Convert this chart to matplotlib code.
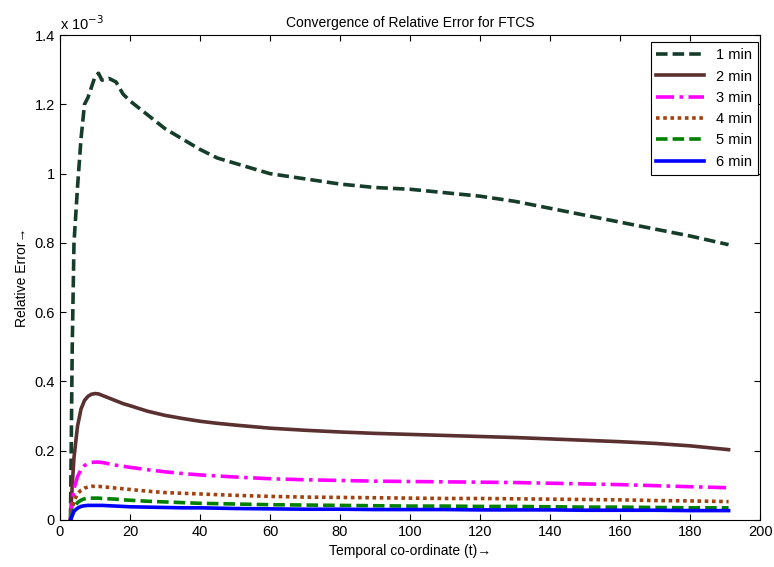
import matplotlib
matplotlib.use("Agg")
import matplotlib.pyplot as plt

plt.rcParams["font.family"] = ["Liberation Sans", "DejaVu Sans"]

# temporal coordinate sample points
t = [3, 3.5, 4, 5, 6, 7, 8, 9, 10, 11, 12, 14, 16, 18, 20, 25, 30, 35, 40, 45, 50,
     60, 70, 80, 90, 100, 110, 120, 130, 140, 150, 160, 170, 180, 191]

# relative error (x 1e-3)
err_1 = [0.0, 0.50, 0.80, 0.96, 1.10, 1.20, 1.22, 1.25, 1.28, 1.29, 1.27, 1.275, 1.265, 1.23, 1.21,
         1.17, 1.13, 1.10, 1.07, 1.045, 1.03, 1.00, 0.985, 0.97, 0.96, 0.955, 0.945, 0.935,
         0.92, 0.90, 0.88, 0.86, 0.84, 0.82, 0.795]
err_2 = [0.0, 0.10, 0.18, 0.27, 0.32, 0.345, 0.357, 0.363, 0.365, 0.364, 0.360, 0.352, 0.344,
         0.336, 0.330, 0.314, 0.302, 0.293, 0.285, 0.279, 0.274, 0.265, 0.259, 0.254, 0.250,
         0.247, 0.244, 0.241, 0.238, 0.234, 0.230, 0.226, 0.221, 0.214, 0.203]
err_3 = [0.0, 0.05, 0.09, 0.125, 0.145, 0.157, 0.163, 0.166, 0.167, 0.167, 0.166, 0.162, 0.158,
         0.155, 0.152, 0.145, 0.139, 0.134, 0.130, 0.127, 0.124, 0.119, 0.116, 0.114, 0.112,
         0.111, 0.110, 0.109, 0.108, 0.106, 0.104, 0.102, 0.099, 0.096, 0.093]
err_4 = [0.0, 0.03, 0.055, 0.075, 0.086, 0.092, 0.095, 0.097, 0.097, 0.097, 0.096, 0.094, 0.092,
         0.090, 0.088, 0.083, 0.079, 0.077, 0.075, 0.073, 0.071, 0.068, 0.066, 0.065, 0.064,
         0.063, 0.062, 0.062, 0.061, 0.060, 0.059, 0.058, 0.056, 0.055, 0.053]
err_5 = [0.0, 0.02, 0.035, 0.050, 0.057, 0.061, 0.063, 0.063, 0.063, 0.063, 0.062, 0.061, 0.060,
         0.058, 0.057, 0.054, 0.052, 0.050, 0.048, 0.047, 0.046, 0.044, 0.043, 0.042, 0.041,
         0.040, 0.040, 0.039, 0.039, 0.038, 0.037, 0.037, 0.036, 0.035, 0.035]
err_6 = [0.0, 0.012, 0.025, 0.034, 0.039, 0.041, 0.042, 0.042, 0.042, 0.042, 0.042, 0.041, 0.040,
         0.039, 0.038, 0.037, 0.036, 0.035, 0.035, 0.034, 0.033, 0.032, 0.031, 0.031, 0.030,
         0.030, 0.030, 0.029, 0.029, 0.029, 0.028, 0.028, 0.028, 0.027, 0.027]

labels = ["1 min", "2 min", "3 min", "4 min", "5 min", "6 min"]
series = [err_1, err_2, err_3, err_4, err_5, err_6]
colors = ["#153d2a", "#5a3030", "#ff00ff", "#a3420e", "#008000", "#0000ff"]
styles = [(0, (3.2, 1.4)), "-", (0, (5, 1.5, 1, 1.5)), (0, (1, 1)), (0, (3.2, 1.4)), "-"]

fig = plt.figure(figsize=(7.74, 5.67), dpi=100)
ax = fig.add_axes([0.0775, 0.083, 0.9045, 0.855])

for y, lab, c, ls in zip(series, labels, colors, styles):
    ax.plot(t, [v * 1e-3 for v in y], color=c, linestyle=ls, linewidth=2.6, label=lab)

ax.set_xlim(0, 200)
ax.set_ylim(0, 1.4e-3)
ax.set_xticks(range(0, 201, 20))
ax.set_yticks([i * 0.2e-3 for i in range(8)])
ax.set_yticklabels(["0", "0.2", "0.4", "0.6", "0.8", "1", "1.2", "1.4"])
ax.text(0.0, 1.005, r"x 10$^{-3}$", transform=ax.transAxes, fontsize=10.5, ha="left", va="bottom")
ax.tick_params(direction="in", top=True, right=True, labelsize=10.5, length=4)

ax.set_title("Convergence of Relative Error for FTCS", fontsize=10)
ax.set_xlabel("Temporal co-ordinate (t)\u2192", fontsize=10)
ax.set_ylabel("Relative Error\u2192", fontsize=10)

leg = ax.legend(loc="upper right", bbox_to_anchor=(0.997, 0.985), fontsize=10.5, fancybox=False,
                framealpha=1, edgecolor="black", handlelength=3.3, borderaxespad=0.0,
                labelspacing=0.5)
leg.get_frame().set_linewidth(0.8)

fig.savefig("out.png", dpi=100)
